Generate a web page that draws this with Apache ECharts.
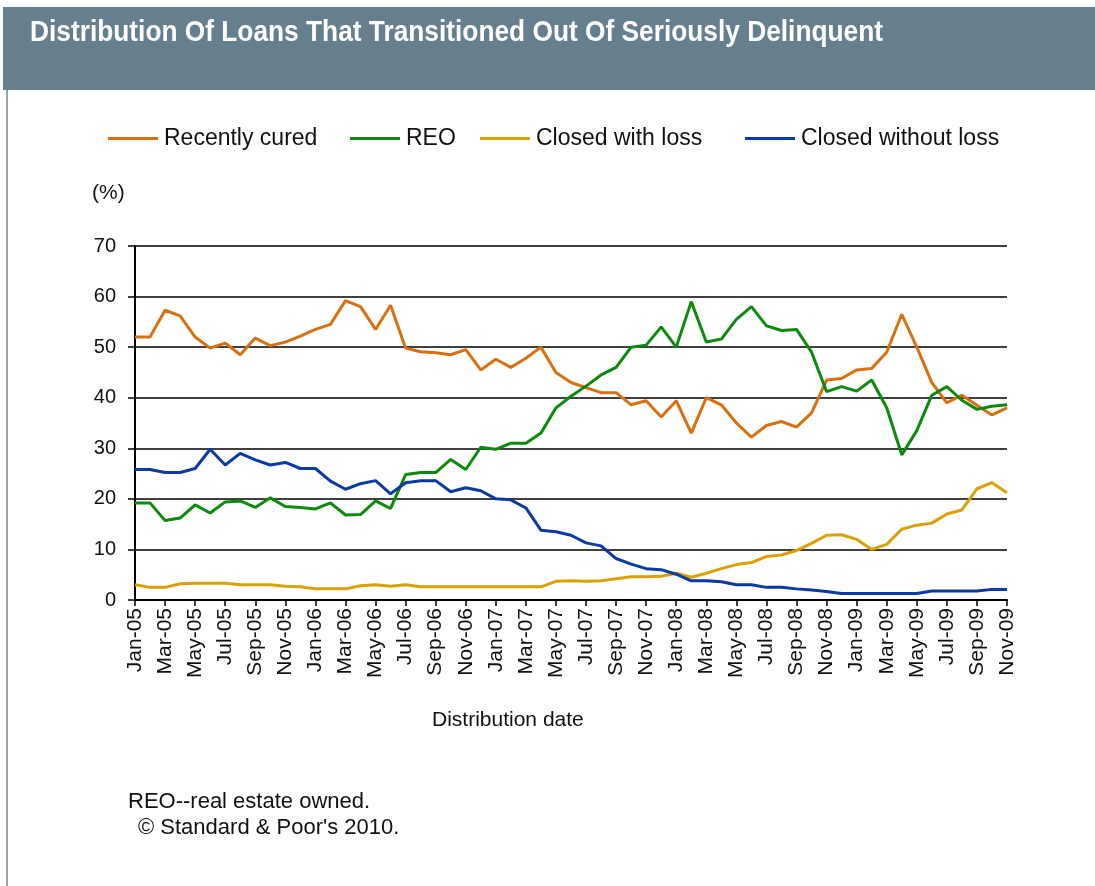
<!DOCTYPE html>
<html>
<head>
<meta charset="utf-8">
<script src="https://cdn.jsdelivr.net/npm/echarts@6/dist/echarts.min.js"></script>
<style>
  html, body { margin: 0; padding: 0; background: #fff; }
  #chart { width: 1095px; height: 886px; }
</style>
</head>
<body>
<div id="chart"></div>
<script>
// distribution dates, monthly Jan-05 .. Nov-09
const months = [
  'Jan-05','Feb-05','Mar-05','Apr-05','May-05','Jun-05','Jul-05','Aug-05','Sep-05','Oct-05','Nov-05','Dec-05',
  'Jan-06','Feb-06','Mar-06','Apr-06','May-06','Jun-06','Jul-06','Aug-06','Sep-06','Oct-06','Nov-06','Dec-06',
  'Jan-07','Feb-07','Mar-07','Apr-07','May-07','Jun-07','Jul-07','Aug-07','Sep-07','Oct-07','Nov-07','Dec-07',
  'Jan-08','Feb-08','Mar-08','Apr-08','May-08','Jun-08','Jul-08','Aug-08','Sep-08','Oct-08','Nov-08','Dec-08',
  'Jan-09','Feb-09','Mar-09','Apr-09','May-09','Jun-09','Jul-09','Aug-09','Sep-09','Oct-09','Nov-09'
];

// values in %
const recentlyCured = [52, 52, 57.3, 56.2, 52, 49.8, 50.8, 48.5, 51.8, 50.3, 51, 52.2,
  53.5, 54.5, 59.2, 58, 53.5, 58.3, 49.8, 49.1, 48.9, 48.5, 49.5, 45.5,
  47.6, 46, 47.8, 50, 45, 43, 42, 41, 41, 38.6, 39.4, 36.2,
  39.4, 33, 40, 38.6, 35, 32.2, 34.5, 35.3, 34.2, 37, 43.5, 43.8,
  45.5, 45.8, 49, 56.5, 50, 43, 39, 40.5, 38.5, 36.6, 38];
const reo = [19.2, 19.2, 15.7, 16.2, 18.8, 17.2, 19.4, 19.6, 18.3, 20.2, 18.5, 18.3,
  18, 19.2, 16.8, 16.9, 19.6, 18.1, 24.8, 25.2, 25.2, 27.8, 25.8, 30.2,
  29.8, 31, 31, 33, 38, 40.3, 42.3, 44.5, 46, 50, 50.4, 54,
  50, 59, 51, 51.6, 55.5, 58, 54.2, 53.3, 53.5, 49, 41.2, 42.2,
  41.3, 43.5, 38, 28.7, 33.5, 40.5, 42.2, 39.5, 37.7, 38.3, 38.6];
const closedWithLoss = [3, 2.5, 2.5, 3.2, 3.3, 3.3, 3.3, 3, 3, 3, 2.7, 2.6,
  2.2, 2.2, 2.2, 2.8, 3, 2.7, 3, 2.6, 2.6, 2.6, 2.6, 2.6,
  2.6, 2.6, 2.6, 2.6, 3.7, 3.8, 3.7, 3.8, 4.2, 4.6, 4.6, 4.7,
  5.3, 4.5, 5.3, 6.2, 7, 7.4, 8.6, 8.9, 9.8, 11.2, 12.8, 12.9,
  12, 10, 11, 14, 14.8, 15.2, 17, 17.8, 22, 23.2, 21.2];
const closedWithoutLoss = [25.8, 25.8, 25.2, 25.2, 26, 29.8, 26.7, 29, 27.7, 26.7, 27.2, 26,
  26, 23.5, 21.9, 23, 23.6, 21, 23.2, 23.6, 23.6, 21.4, 22.2, 21.6,
  20, 19.8, 18.2, 13.8, 13.5, 12.8, 11.3, 10.7, 8.2, 7.1, 6.2, 6,
  5.1, 3.8, 3.8, 3.6, 3, 3, 2.5, 2.5, 2.2, 2, 1.7, 1.3,
  1.3, 1.3, 1.3, 1.3, 1.3, 1.8, 1.8, 1.8, 1.8, 2.1, 2.1];

const seriesNames = ['Recently cured', 'REO', 'Closed with loss', 'Closed without loss'];
const seriesColors = ['#d9700f', '#0b8a0b', '#d9a106', '#0a3aa2'];
const seriesData = [recentlyCured, reo, closedWithLoss, closedWithoutLoss];

const FONT = "'Liberation Sans', Arial, sans-serif";
const TITLE = 'Distribution Of Loans That Transitioned Out Of Seriously Delinquent';
const TITLE_FONT = "bold 30px 'Liberation Sans', Arial, sans-serif";

// squeeze the title to the narrow width of the original
const ctx = document.createElement('canvas').getContext('2d');
ctx.font = TITLE_FONT;
const titleScale = 853 / ctx.measureText(TITLE).width;

const chart = echarts.init(document.getElementById('chart'));

// one legend per item so each sits where it does in the original
const legendLeft = [103, 345, 475, 740];

chart.setOption({
    animation: false,
    backgroundColor: '#fff',
    textStyle: { fontFamily: FONT },
    legend: seriesNames.map((name, i) => ({
        data: [name],
        left: legendLeft[i],
        top: 122,
        icon: 'rect',
        itemWidth: 50,
        itemHeight: 3,
        itemGap: 0,
        textStyle: { fontFamily: FONT, fontSize: 23, color: '#111', padding: [0, 0, 0, 1] }
    })),
    grid: { left: 135, right: 88, top: 246, bottom: 286, containLabel: false },
    xAxis: {
        type: 'category',
        data: months,
        boundaryGap: false,
        axisLine: { lineStyle: { color: '#000', width: 2 } },
        axisTick: { interval: 1, length: 6, lineStyle: { color: '#000', width: 1.5 } },
        axisLabel: { interval: 1, rotate: 90, margin: 8, fontFamily: FONT, fontSize: 21, color: '#111' },
        splitLine: { show: false }
    },
    yAxis: {
        type: 'value',
        min: 0,
        max: 70,
        interval: 10,
        axisLine: { show: true, lineStyle: { color: '#000', width: 2 } },
        axisTick: { show: true, length: 7, lineStyle: { color: '#000', width: 1.5 } },
        axisLabel: { margin: 19, fontFamily: FONT, fontSize: 20, color: '#111' },
        splitLine: { lineStyle: { color: '#000', width: 1.5 } }
    },
    series: seriesNames.map((name, i) => ({
        name: name,
        type: 'line',
        data: seriesData[i],
        showSymbol: false,
        symbol: 'none',
        color: seriesColors[i],
        lineStyle: { color: seriesColors[i], width: 3 },
        z: 3
    })),
    graphic: [
        { type: 'rect', left: 3, top: 7, shape: { width: 1092, height: 83 },
          style: { fill: '#667f8f' }, z: 0 },
        { type: 'rect', left: 6, top: 90, shape: { width: 2, height: 796 },
          style: { fill: '#95a3ad' }, z: 0 },
        { type: 'text', x: 30, y: 33, scaleX: titleScale, z: 10,
          style: { text: TITLE, fill: '#fff', font: TITLE_FONT, textVerticalAlign: 'middle' } },
        { type: 'text', left: 92, top: 183,
          style: { text: '(%)', fill: '#111', font: '21px ' + FONT } },
        { type: 'text', left: 432, top: 710,
          style: { text: 'Distribution date', fill: '#111', font: '21px ' + FONT } },
        { type: 'text', left: 128, top: 791,
          style: { text: 'REO--real estate owned.', fill: '#111', font: '22px ' + FONT } },
        { type: 'text', left: 138, top: 817,
          style: { text: '\u00A9 Standard & Poor\'s 2010.', fill: '#111', font: '22px ' + FONT } }
    ]
});
</script>
</body>
</html>
